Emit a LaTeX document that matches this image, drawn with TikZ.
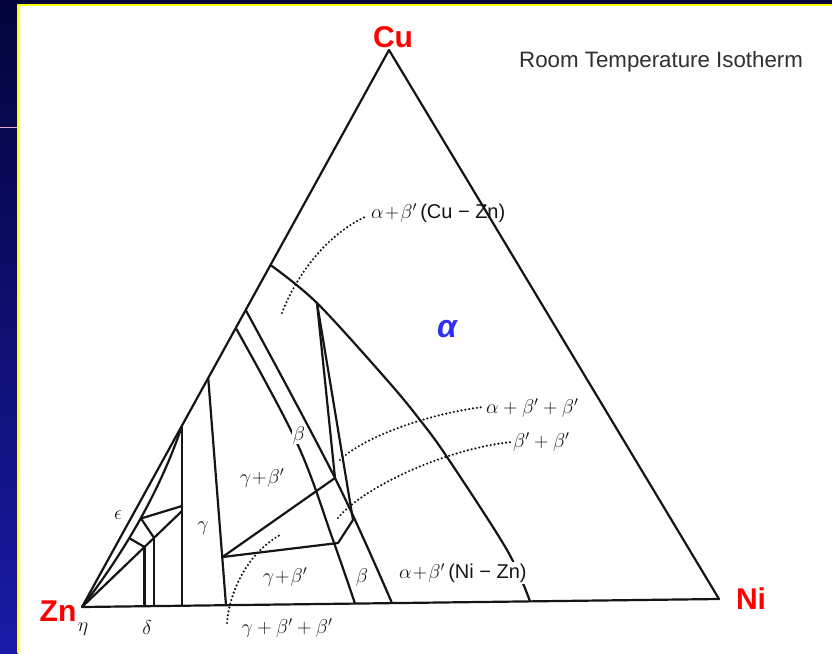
\RequirePackage{fix-cm}
\documentclass[tikz,border=0pt]{standalone}
\usepackage{fontspec}
\newfontfamily\sansL{Liberation Sans}
\usetikzlibrary{calc}
\definecolor{navyTop}{HTML}{03033A}
\definecolor{navyBot}{HTML}{1A1AA6}
\definecolor{ink}{HTML}{151515}
\definecolor{elemred}{HTML}{FF0000}
\definecolor{alphablue}{HTML}{3030F0}
\definecolor{pinkline}{HTML}{E8A8D8}
\definecolor{framey}{HTML}{FFFF00}
\definecolor{titlegray}{HTML}{303030}
\begin{document}
\begin{tikzpicture}[x=1pt,y=-1pt,line join=round,
  bnd/.style={draw=ink,line width=2.2pt},
  dotl/.style={draw=ink,line width=2.4pt,line cap=round,dash pattern=on 0pt off 3.9pt},
  elem/.style={text=elemred,font=\sansL\bfseries\fontsize{30}{32}\selectfont,inner sep=0pt},
  phl/.style={text=ink,font=\fontsize{20}{22}\selectfont,inner sep=1pt},
]
\useasboundingbox (0,0) rectangle (832,653);
% background frame
\fill[navyTop] (0,0) rectangle (832,653);
\shade[top color=navyTop,bottom color=navyBot] (0,0) rectangle (18,653);
\fill[white] (18,5) rectangle (832,653);
\draw[framey,line width=1.6pt] (18,653) -- (18,5) -- (832,5);
\draw[pinkline,line width=1.6pt] (0,127.5) -- (17,127.5);

% vertices
\coordinate (Zn) at (82,607);
\coordinate (Cu) at (389,50);
\coordinate (Ni) at (719,599);
% points on the Zn-Cu edge
\coordinate (eV) at (182,426);
\coordinate (eG) at (208.2,378);
\coordinate (eB) at (235.8,328);
\coordinate (eA) at (245.7,310);
\coordinate (eAl) at (270.5,265);
% points on the base
\coordinate (b145) at (144.5,606.2);
\coordinate (b155) at (154,606.1);
\coordinate (bV) at (182,605.7);
\coordinate (bG) at (226,605.2);
\coordinate (bB) at (355,603.6);
\coordinate (bA) at (392,603.1);
\coordinate (bAl) at (530,601.4);
% interior points
\coordinate (vS) at (182,506);
\coordinate (vF) at (182,511);
\coordinate (f2a) at (141,518.5);
\coordinate (f2b) at (129,538);
\coordinate (f1a) at (154,537.8);
\coordinate (f1b) at (144.5,547);
\coordinate (T) at (317,303);
\coordinate (jA) at (335,478);
\coordinate (jD) at (353,520);
\coordinate (jL) at (338,543);
\coordinate (P) at (222.5,557);

% triangle
\draw[bnd] (Zn) -- (Cu) -- (Ni) -- cycle;

% Zn corner
\draw[bnd] (Zn) .. controls (127.3,548.3) and (160.8,488) .. (eV);
\draw[bnd] (eV) -- (bV);
\draw[bnd] (Zn) -- (vF);
\draw[bnd] (f2a) -- (vS);
\draw[bnd] (f2a) -- (f1a);
\draw[bnd] (f2b) -- (f1b);
\draw[bnd] (f1a) -- (b155);
\draw[bnd] (f1b) -- (b145);
\draw[bnd] (eG) -- (bG);

% alpha boundary
\draw[bnd] plot[smooth,tension=0.55] coordinates {(eAl) (317,303) (387,380) (420,420) (447,457) (507,550) (bAl)};
% beta band
\draw[bnd] plot[smooth,tension=0.6] coordinates {(eA) (jA) (bA)};
\draw[bnd] plot[smooth,tension=0.6] coordinates {(eB) (297,443) (333,540) (bB)};
\draw[bnd] (T) -- (jA);
\draw[bnd] (T) -- (jD);
% gamma + beta' regions
\draw[bnd] (P) -- (jA);
\draw[bnd] (P) -- (jL) -- (jD);

% dotted leaders
\draw[dotl] (282,313) .. controls (295,278) and (325,235) .. (367,216);
\draw[dotl] (340,460) .. controls (360,440) and (420,415) .. (483,407);
\draw[dotl] (338,518) .. controls (360,490) and (440,450) .. (511,442);
\draw[dotl] (227,623) .. controls (229,595) and (245,555) .. (280,535);

% element labels
\node[elem] (lCu) at (393,37) {Cu};
\node[elem] (lNi) at (751,599) {Ni};
\node[elem] (lZn) at (58,611) {Zn};
\node[text=titlegray,font=\sansL\fontsize{22.3}{25}\selectfont,anchor=west,inner sep=0pt] (title) at (519,62) {Room Temperature Isotherm};
\node[text=alphablue,font=\sansL\bfseries\itshape\fontsize{32}{34}\selectfont,inner sep=0pt] (lalpha) at (447,329) {α};

% phase labels
\node[phl,anchor=west] (l1) at (370,213) {$\alpha\!+\!\beta'$\,\sansL(Cu − Zn)};
\node[phl,anchor=west] (l2) at (485,408) {$\alpha+\beta'+\beta'$};
\node[phl,anchor=west] (l3) at (512,442) {$\beta'+\beta'$};
\node[phl,anchor=west,fill=white] (l4) at (398,573) {$\alpha\!+\!\beta'$\,\sansL(Ni − Zn)};
\node[phl] (l5) at (362,577) {$\beta$};
\node[phl,fill=white,inner sep=0.5pt] (l6) at (299,435) {$\beta$};
\node[phl] (l7) at (262,478) {$\gamma\!+\!\beta'$};
\node[phl] (l8) at (285,577) {$\gamma\!+\!\beta'$};
\node[phl] (l9) at (287,628) {$\gamma+\beta'+\beta'$};
\node[phl] (l10) at (203,528) {$\gamma$};
\node[phl] (l11) at (118,515) {$\epsilon$};
\node[phl] (l12) at (83,629) {$\eta$};
\node[phl] (l13) at (147,628) {$\delta$};
\end{tikzpicture}
\end{document}
